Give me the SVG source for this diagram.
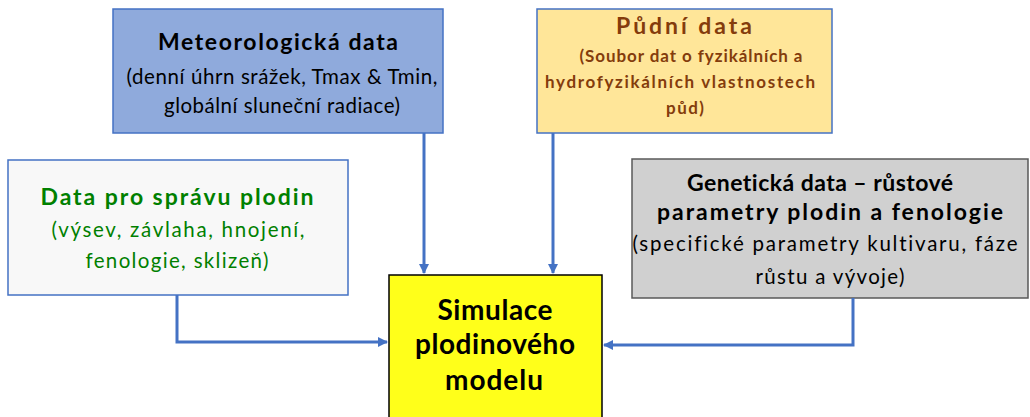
<svg xmlns="http://www.w3.org/2000/svg" width="1030" height="417" viewBox="0 0 1030 417">
<defs>
<marker id="ah" viewBox="0 0 10 10" refX="9" refY="5" markerWidth="3.4" markerHeight="3.4" orient="auto" markerUnits="strokeWidth">
<path d="M0,0 L10,5 L0,10 Z" fill="#4472C4"/>
</marker>
</defs>
<style>
text{font-family:Lato,"Open Sans","Liberation Sans",sans-serif;text-anchor:middle;font-variant-ligatures:none}
.t{font-weight:bold;font-size:23px}
.b{font-size:20.5px}
.p{font-weight:bold;font-size:17px;fill:#843C0C}
.s{font-weight:bold;font-size:28px;fill:#000}
.conn{fill:none;stroke:#4472C4;stroke-width:3;marker-end:url(#ah)}
</style>
<rect width="1030" height="417" fill="#FFFFFF"/>
<g id="meteo">
<rect x="113" y="9" width="330" height="124" fill="#8FAADC" stroke="#4472C4" stroke-width="1.5"/>
<text class="t" x="278" y="50" fill="#000" textLength="240">Meteorologická data</text>
<text class="b" x="282" y="84" fill="#000" textLength="311">(denní úhrn srážek, Tmax &amp; Tmin,</text>
<text class="b" x="282" y="113" fill="#000" textLength="236">globální sluneční radiace)</text>
</g>
<g id="pudni">
<rect x="537" y="9" width="295" height="124" fill="#FFE699" stroke="#4472C4" stroke-width="1.5"/>
<text class="t" x="684" y="34" fill="#843C0C" textLength="136">Půdní data</text>
<text class="p" x="691" y="62" textLength="223">(Soubor dat o fyzikálních a</text>
<text class="p" x="680" y="88" textLength="270">hydrofyzikálních vlastnostech</text>
<text class="p" x="685" y="114" textLength="38">půd)</text>
</g>
<g id="sprava">
<rect x="8" y="160" width="340" height="135" fill="#F8F8F8" stroke="#4472C4" stroke-width="1.5"/>
<text class="t" x="177" y="205" fill="#008000" textLength="273">Data pro správu plodin</text>
<text class="b" x="178" y="237" fill="#008000" textLength="253">(výsev, závlaha, hnojení,</text>
<text class="b" x="177" y="268" fill="#008000" textLength="183">fenologie, sklizeň)</text>
</g>
<g id="geneticka">
<rect x="632" y="159" width="396" height="139" fill="#D0D0D0" stroke="#595959" stroke-width="1.5"/>
<text class="t" x="820" y="191" fill="#000" textLength="266">Genetická data – růstové</text>
<text class="t" x="830" y="220" fill="#000" textLength="346">parametry plodin a fenologie</text>
<text class="b" x="825" y="251" fill="#000" textLength="385">(specifické parametry kultivaru, fáze</text>
<text class="b" x="830" y="284" fill="#000" textLength="149">růstu a vývoje)</text>
</g>
<g id="simulace">
<rect x="389" y="275" width="213" height="150" fill="#FFFF1A" stroke="#000" stroke-width="1.5"/>
<text class="s" x="495" y="320" textLength="115">Simulace</text>
<text class="s" x="495" y="354" textLength="160">plodinového</text>
<text class="s" x="494" y="390" textLength="98">modelu</text>
</g>
<g id="connectors">
<path class="conn" d="M424,133 L424,273"/>
<path class="conn" d="M553,133 L553,273"/>
<path class="conn" d="M177,295 L177,342 L387,342"/>
<path class="conn" d="M853,298 L853,345 L604,345"/>
</g>
</svg>
